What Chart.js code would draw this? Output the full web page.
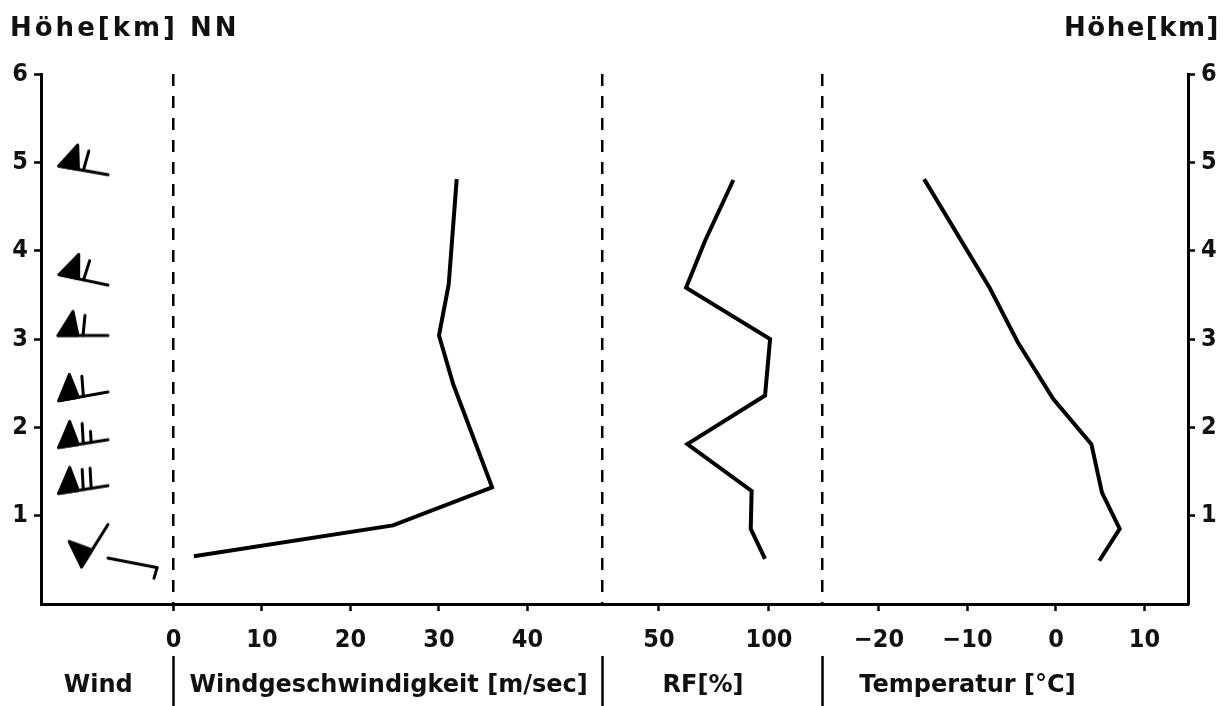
<!DOCTYPE html>
<html>
<head>
<meta charset="utf-8">
<script src="https://cdn.jsdelivr.net/npm/chart.js@4.4.0/dist/chart.umd.min.js"></script>
<style>
    html, body { margin: 0; padding: 0; background: #fff; }
    #wrap { width: 1232px; height: 706px; }
</style>
</head>
<body>
<div id="wrap"><canvas id="profil" width="1232" height="706"></canvas></div>
<script>
// Höhe in km
const windHeights = [4.81, 3.62, 3.04, 2.49, 1.32, 0.89, 0.54];
const windSpeed   = [32.0, 31.1, 30.0, 31.6, 36.0, 24.8, 2.3];

const rfHeights = [4.80, 4.11, 3.58, 3.00, 2.36, 1.81, 1.28, 0.85, 0.51];
const rfValues  = [83.8, 70.9, 62.3, 100.5, 98.2, 62.9, 92.1, 91.7, 98.2];

const tempHeights = [4.81, 3.58, 2.96, 2.32, 1.81, 1.26, 0.85, 0.49];
const tempValues  = [-14.9, -7.5, -4.3, -0.3, 4.0, 5.2, 7.2, 4.9];

// Windfiedern: Höhe, Geschwindigkeit in Knoten, Richtung in Grad
const barbHeights = [4.86, 3.61, 3.04, 2.40, 1.86, 1.34, 0.90, 0.52];
const barbKnots   = [60, 60, 60, 60, 65, 70, 50, 5];
const barbDirs    = [280, 282, 270, 260, 261, 261, 212, 101];

const heightTicks = [1, 2, 3, 4, 5, 6];
const windTicks   = [0, 10, 20, 30, 40];
const rfTicks     = [50, 100];
const tempTicks   = [-20, -10, 0, 10];

const panelTitles = ['Wind', 'Windgeschwindigkeit [m/sec]', 'RF[%]', 'Temperatur [°C]'];
const leftTitle  = 'Höhe[km] NN';
const rightTitle = 'Höhe[km]';

// every x axis spans the full plot width, its own panel is only a slice of it
const windRange  = [-14.97, 114.63];
const rfRange    = [-230.9, 290.45];
const tempRange  = [-114.7, 14.92];
const panelBreaks = [0, 48.47, 73.28];   // dashed dividers, in m/s units
const barbX = -7.4;                       // station of the wind barbs, m/s units

const FONT = 'DejaVu Sans';
const NARROW = '"DejaVu Sans Condensed", "DejaVu Sans"';
Chart.defaults.font.family = FONT;
Chart.defaults.color = '#111';

function makeBarb(knots, dir) {
    const size = 140, c = size / 2, len = 50;
    const cv = document.createElement('canvas');
    cv.width = size;
    cv.height = size;
    const g = cv.getContext('2d');
    const rad = dir * Math.PI / 180;
    const ux = Math.sin(rad), uy = -Math.cos(rad);   // station -> outer end
    const px = Math.cos(rad), py = Math.sin(rad);    // side of the feathers
    const ox = c + ux * len, oy = c + uy * len;
    const at = (s, t) => [ox - ux * s + px * t, oy - uy * s + py * t];

    g.strokeStyle = '#000';
    g.fillStyle = '#000';
    g.lineWidth = 3;
    g.lineCap = 'round';
    g.lineJoin = 'round';

    g.beginPath();
    g.moveTo(c, c);
    g.lineTo(ox, oy);
    g.stroke();

    let s = 0, rest = knots;
    while (rest >= 50) {
        g.beginPath();
        g.moveTo(...at(s, 0));
        g.lineTo(...at(s + 20, 0));
        g.lineTo(...at(s + 15, 24));
        g.closePath();
        g.fill();
        g.stroke();
        s += 25;
        rest -= 50;
    }
    while (rest >= 10) {
        g.beginPath();
        g.moveTo(...at(s, 0));
        g.lineTo(...at(s + 2, 20));
        g.stroke();
        s += 8;
        rest -= 10;
    }
    if (rest >= 5) {
        g.beginPath();
        g.moveTo(...at(s, 0));
        g.lineTo(...at(s + 1, 11));
        g.stroke();
    }
    return cv;
}

const barbIcons = barbKnots.map((k, i) => makeBarb(k, barbDirs[i]));

const fmtNum = v => v < 0 ? '\u2212' + Math.abs(v) : String(v);

const tickFont = { family: NARROW, size: 25, weight: 'bold' };

function fixedTicks(list) {
    return scale => { scale.ticks = list.map(v => ({ value: v })); };
}

const profileLine = {
    borderColor: '#000',
    borderWidth: 4,
    pointRadius: 0,
    showLine: true,
    tension: 0,
    fill: false
};

const yAxis = (pos, width) => ({
    type: 'linear',
    position: pos,
    min: 0,
    max: 6,
    afterBuildTicks: fixedTicks(heightTicks),
    afterFit: scale => { scale.width = width; },
    border: { display: true, color: '#000', width: 3 },
    grid: { drawOnChartArea: false, drawTicks: true, tickLength: 7, tickWidth: 2.5, tickColor: '#000' },
    ticks: { font: tickFont, padding: 6, color: '#111' }
});

const xAxis = (range, list, extra) => Object.assign({
    type: 'linear',
    min: range[0],
    max: range[1],
    afterBuildTicks: fixedTicks(list),
    border: { display: false },
    grid: { drawOnChartArea: false, drawTicks: true, tickLength: 7, tickWidth: 2.5, tickColor: '#000' },
    ticks: { font: tickFont, padding: 14, color: '#111', autoSkip: false, maxRotation: 0, callback: fmtNum }
}, extra);

const frameText = {
    id: 'frameText',
    afterDraw(chart) {
        const { ctx, chartArea, scales } = chart;
        ctx.save();
        ctx.fillStyle = '#111';
        ctx.textBaseline = 'middle';
        ctx.font = 'bold 26px "' + FONT + '"';
        ctx.textAlign = 'left';
        ctx.letterSpacing = '3px';
        ctx.fillText(leftTitle, 10, 29);
        ctx.textAlign = 'right';
        ctx.letterSpacing = '1.5px';
        ctx.fillText(rightTitle, 1220, 29);
        ctx.letterSpacing = '0px';

        ctx.font = 'bold 24px "' + FONT + '"';
        const anchors = [['xWind', -8.5], ['xWind', 24.3], ['xRF', 70], ['xTemp', -10]];
        ctx.textAlign = 'center';
        panelTitles.forEach((t, i) => {
            const [id, v] = anchors[i];
            ctx.fillText(t, scales[id].getPixelForValue(v), chartArea.bottom + 82);
        });

        ctx.strokeStyle = '#000';
        ctx.lineWidth = 2.5;
        panelBreaks.forEach(v => {
            const x = Math.round(scales.xPanel.getPixelForValue(v)) + 0.5;
            ctx.beginPath();
            ctx.moveTo(x, chartArea.bottom + 52);
            ctx.lineTo(x, chartArea.bottom + 102);
            ctx.stroke();
        });
        ctx.restore();
    }
};

new Chart(document.getElementById('profil'), {
    type: 'scatter',
    data: {
        datasets: [
            Object.assign({
                label: 'Windgeschwindigkeit',
                data: windHeights.map((h, i) => ({ x: windSpeed[i], y: h })),
                xAxisID: 'xWind', yAxisID: 'y'
            }, profileLine),
            Object.assign({
                label: 'RF',
                data: rfHeights.map((h, i) => ({ x: rfValues[i], y: h })),
                xAxisID: 'xRF', yAxisID: 'y'
            }, profileLine),
            Object.assign({
                label: 'Temperatur',
                data: tempHeights.map((h, i) => ({ x: tempValues[i], y: h })),
                xAxisID: 'xTemp', yAxisID: 'y'
            }, profileLine),
            {
                label: 'Wind',
                data: barbHeights.map(h => ({ x: barbX, y: h })),
                xAxisID: 'xWind', yAxisID: 'y',
                showLine: false,
                pointRadius: 3,
                pointStyle: ctx => barbIcons[ctx.dataIndex]
            }
        ]
    },
    options: {
        responsive: false,
        animation: false,
        events: [],
        layout: { padding: { top: 74, left: 0, right: 0, bottom: 0 } },
        plugins: { legend: { display: false }, tooltip: { enabled: false } },
        scales: {
            y: yAxis('left', 41),
            y2: yAxis('right', 44),
            xWind: xAxis(windRange, windTicks, {
                position: 'bottom',
                afterFit: scale => { scale.height = 102; },
                border: { display: true, color: '#000', width: 3 }
            }),
            xRF: xAxis(rfRange, rfTicks, { position: { y: 0 } }),
            xTemp: xAxis(tempRange, tempTicks, { position: { y: 0 } }),
            xPanel: {
                type: 'linear',
                position: { y: 0 },
                min: windRange[0],
                max: windRange[1],
                afterBuildTicks: fixedTicks(panelBreaks),
                border: { display: false, dash: [12, 10] },
                grid: { drawOnChartArea: true, drawTicks: false, color: '#000', lineWidth: 2.5 },
                ticks: { display: false }
            }
        }
    },
    plugins: [frameText]
});
</script>
</body>
</html>
